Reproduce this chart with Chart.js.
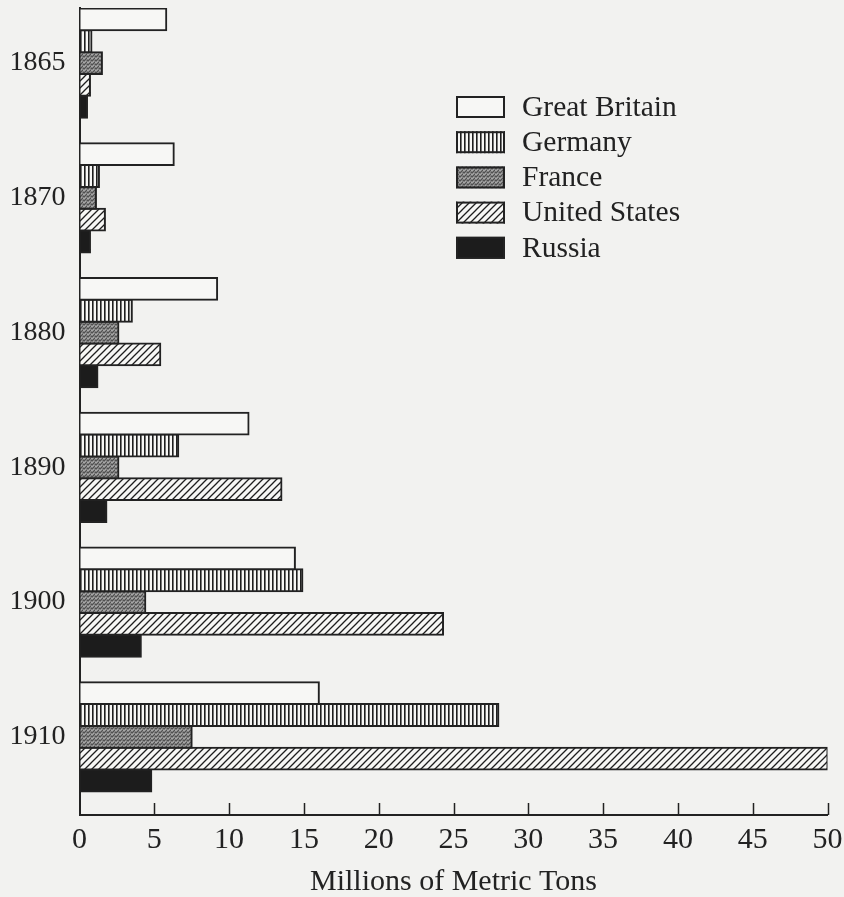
<!DOCTYPE html>
<html><head><meta charset="utf-8">
<script src="https://cdn.jsdelivr.net/npm/chart.js@4"></script>
<style>
html,body{margin:0;padding:0;background:#f2f2f0;}
#wrap{position:relative;width:844px;height:897px;}
</style></head><body>
<div id="wrap"><canvas id="c" width="844" height="897"></canvas></div>
<script>
// ---- data ----
const years = ['1865', '1870', '1880', '1890', '1900', '1910'];
const seriesNames = ['Great Britain', 'Germany', 'France', 'United States', 'Russia'];
const greatBritain = [5.8, 6.3, 9.2, 11.3, 14.4, 16.0];
const germany      = [0.8, 1.3, 3.5, 6.6, 14.9, 28.0];
const france       = [1.5, 1.1, 2.6, 2.6, 4.4, 7.5];
const unitedStates = [0.7, 1.7, 5.4, 13.5, 24.3, 50.0];
const russia       = [0.5, 0.7, 1.2, 1.8, 4.1, 4.8];
const xTickValues  = [0, 5, 10, 15, 20, 25, 30, 35, 40, 45, 50];
const axisTitle = 'Millions of Metric Tons';

// ---- patterns ----
function tile(w, h, draw) {
  const c = document.createElement('canvas'); c.width = w; c.height = h;
  const g = c.getContext('2d'); draw(g, w, h);
  return document.getElementById('c').getContext('2d').createPattern(c, 'repeat');
}
const patWhite = '#f7f7f5';
const patStripes = tile(4, 4, (g, w, h) => { g.fillStyle = '#f7f7f5'; g.fillRect(0,0,w,h); g.fillStyle = '#1e1e1e'; g.fillRect(0,0,1.6,h); });
const patStipple = tile(4, 4, (g, w, h) => {
  g.fillStyle = '#808080'; g.fillRect(0,0,w,h);
  g.fillStyle = '#505050'; g.fillRect(0,0,1,1); g.fillRect(2,2,1,1); g.fillRect(3,0,1,1); g.fillRect(1,3,1,1);
  g.fillStyle = '#a8a8a8'; g.fillRect(1,1,1,1); g.fillRect(3,2,1,1); g.fillRect(0,2,1,1);
});
const patHatch = tile(7, 7, (g, w, h) => {
  g.fillStyle = '#f7f7f5'; g.fillRect(0,0,w,h);
  g.strokeStyle = '#1e1e1e'; g.lineWidth = 1.3;
  g.beginPath(); g.moveTo(-1, h+1); g.lineTo(w+1, -1);
  g.moveTo(-1, 1); g.lineTo(1, -1); g.moveTo(w-1, h+1); g.lineTo(w+1, h-1); g.stroke();
});
const fills = [patWhite, patStripes, patStipple, patHatch, '#1c1c1c'];
const seriesValues = [greatBritain, germany, france, unitedStates, russia];

const family = "'Liberation Serif', 'Times New Roman', serif";
const ink = '#222';

const inwardTicks = {
  id: 'inwardTicks',
  afterDatasetsDraw(chart) {
    const xs = chart.scales.x, ctx = chart.ctx, b = chart.chartArea.bottom;
    ctx.save(); ctx.strokeStyle = ink; ctx.lineWidth = 1.5;
    xs.ticks.forEach((t, i) => {
      if (t.value === 0) return;
      const px = Math.round(xs.getPixelForTick(i)) + 0.5;
      ctx.beginPath(); ctx.moveTo(px, b); ctx.lineTo(px, b - 12); ctx.stroke();
    });
    ctx.restore();
  }
};

const boxLegend = {
  id: 'boxLegend',
  afterDraw(chart) {
    const ctx = chart.ctx;
    ctx.save();
    ctx.font = `29.5px ${family}`;
    ctx.textBaseline = 'middle'; ctx.textAlign = 'left';
    chart.data.datasets.forEach((ds, i) => {
      const x = 456, y = 96 + i * 35.2, w = 49, h = 22;
      ctx.fillStyle = ds.backgroundColor; ctx.fillRect(x, y, w, h);
      ctx.strokeStyle = ink; ctx.lineWidth = 2; ctx.strokeRect(x + 1, y + 1, w - 2, h - 2);
      ctx.fillStyle = ink; ctx.fillText(ds.label, 522, y + h / 2 + 1);
    });
    ctx.restore();
  }
};

new Chart(document.getElementById('c'), {
  type: 'bar',
  data: {
    datasets: seriesNames.map((name, k) => ({
      label: name,
      data: seriesValues[k].map((v, i) => ({ x: v, y: i })),
      backgroundColor: fills[k],
      borderColor: ink,
      borderWidth: 2,
      borderSkipped: false,
      inflateAmount: 1,
      categoryPercentage: 0.81,
      barPercentage: 1.0
    }))
  },
  options: {
    indexAxis: 'y',
    responsive: false,
    animation: false,
    devicePixelRatio: 1,
    layout: { padding: { top: 8, right: 16.5, left: 0, bottom: 0 } },
    plugins: { legend: { display: false }, tooltip: { enabled: false } },
    scales: {
      x: {
        type: 'linear', min: 0, max: 50, offset: false,
        afterBuildTicks: s => { s.ticks = xTickValues.map(v => ({ value: v })); },
        afterFit: s => { s.height = 82; s.paddingLeft = 0; s.paddingRight = 0; },
        grid: { display: false, drawTicks: false },
        border: { display: true, color: ink, width: 2 },
        ticks: { font: { family, size: 30 }, color: ink, padding: 7 },
        title: { display: true, text: axisTitle, font: { family, size: 30, lineHeight: 1.0 }, color: ink, padding: 0 }
      },
      y: {
        type: 'linear', reverse: true, min: -0.409, max: 5.58, offset: false,
        afterBuildTicks: s => { s.ticks = years.map((_, i) => ({ value: i })); },
        afterFit: s => { s.width = 79.5; s.paddingTop = 0; s.paddingBottom = 0; },
        grid: { display: false, drawTicks: false },
        border: { display: true, color: ink, width: 2 },
        ticks: { font: { family, size: 28 }, color: ink, padding: 14, callback: v => years[v] }
      }
    }
  },
  plugins: [inwardTicks, boxLegend]
});
</script>
</body></html>
